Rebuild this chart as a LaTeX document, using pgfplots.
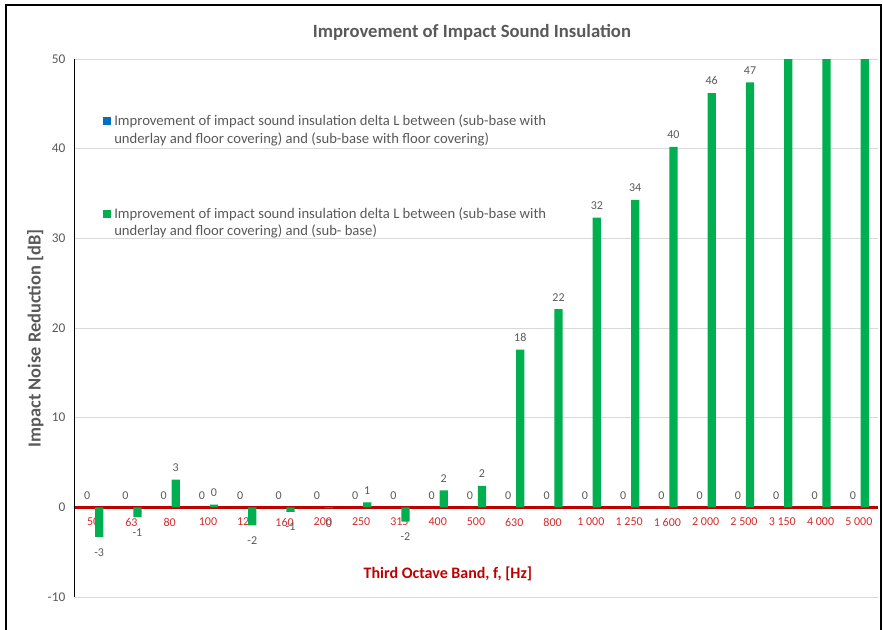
\documentclass[border=0pt]{standalone}
\usepackage{pgfplots}
\pgfplotsset{compat=1.18}
\usepackage{pgfplotstable}
\usepackage{fontspec}
\setmainfont{Carlito}

\definecolor{barGreen}{HTML}{00B050}
\definecolor{barBlue}{HTML}{0070C0}
\definecolor{axRed}{HTML}{C00000}
\definecolor{lblRed}{HTML}{D42A2A}
\definecolor{txtGray}{HTML}{595959}
\definecolor{gridGray}{HTML}{D9D9D9}

% delta L (underlay+covering) vs (covering): all zero
\pgfplotstableread{
x y lbl
0 0 0
1 0 0
2 0 0
3 0 0
4 0 0
5 0 0
6 0 0
7 0 0
8 0 0
9 0 0
10 0 0
11 0 0
12 0 0
13 0 0
14 0 0
15 0 0
16 0 0
17 0 0
18 0 0
19 0 0
20 0 0
}\seriesA

% delta L (underlay+covering) vs (sub-base), positive values
\pgfplotstableread{
x y lbl
2 3.1 3
3 0.3 0
7 0.55 1
9 1.9 2
10 2.4 2
11 17.6 18
12 22.1 22
13 32.3 32
14 34.3 34
15 40.2 40
16 46.2 46
17 47.4 47
}\seriesBpos

% same series, negative values (labels below the bars)
\pgfplotstableread{
x y lbl
0 -3.3 -3
1 -1.1 -1
4 -2.0 -2
5 -0.5 -1
6 -0.1 0
8 -1.6 -2
}\seriesBneg

% bars running past the top of the axis (no labels shown)
\pgfplotstableread{
x y
18 52
19 54
20 55
}\seriesBtop

\begin{document}
\begin{tikzpicture}
\useasboundingbox (0,0) rectangle (662.25pt,-472.5pt);
\draw[black, line width=1pt] (4.5pt,-3.75pt) rectangle (660.75pt,-490pt);
\begin{axis}[
  at={(55.5pt,-447.75pt)}, anchor=south west,
  scale only axis, width=603pt, height=403.5pt,
  xmin=-0.5, xmax=20.5, ymin=-10, ymax=50,
  axis x line=middle, axis y line=left,
  x axis line style={draw=axRed, line width=2pt, -},
  y axis line style={draw=black, line width=0.6pt, -},
  xtick={0,...,20},
  xticklabels={50,63,80,100,125,160,200,250,315,400,500,630,800,1 000,1 250,1 600,2 000,2 500,3 150,4 000,5 000},
  ytick={-10,0,10,20,30,40,50},
  major tick length=0pt,
  ymajorgrids, grid style={gridGray, line width=0.6pt},
  /pgf/number format/assume math mode=true,
  xticklabel style={font=\fontsize{9}{11}\selectfont, text=lblRed, yshift=-4.5pt},
  yticklabel style={font=\fontsize{10}{12}\selectfont, text=txtGray, xshift=-3pt},
  title={Improvement of Impact Sound Insulation},
  title style={font=\fontsize{14}{17}\selectfont\bfseries, text=txtGray,
    at={(axis description cs:0.495,1.035)}, anchor=center},
  xlabel={Third Octave Band, f, [Hz]},
  xlabel style={font=\fontsize{12}{14}\selectfont\bfseries, text=axRed,
    at={(axis description cs:0.465,0.043)}, anchor=center},
  ylabel={Impact Noise Reduction [dB]},
  ylabel style={font=\fontsize{13.8}{16}\selectfont\bfseries, text=txtGray,
    at={(axis description cs:-0.048,0.481)}, anchor=center},
  ybar, bar width=6.2pt,
  nodes near coords, point meta=explicit symbolic,
  every node near coord/.append style={font=\fontsize{9}{11}\selectfont, text=txtGray},
]
\addplot[draw=none, fill=barBlue, bar shift=-4.5pt,
  every node near coord/.append style={anchor=south, yshift=2.5pt}]
  table[x=x, y=y, meta=lbl] {\seriesA};
\addplot[draw=none, fill=barGreen, bar shift=4.5pt,
  every node near coord/.append style={anchor=south, yshift=2.5pt}]
  table[x=x, y=y, meta=lbl] {\seriesBpos};
\addplot[draw=none, fill=barGreen, bar shift=4.5pt,
  every node near coord/.append style={anchor=north, yshift=-5pt}]
  table[x=x, y=y, meta=lbl] {\seriesBneg};
\addplot[draw=none, fill=barGreen, bar shift=4.5pt, nodes near coords={}]
  table[x=x, y=y] {\seriesBtop};
\end{axis}
% legend
\fill[barBlue] (77.25pt,-87.75pt) rectangle (83.25pt,-93.75pt);
\node[anchor=base west, inner sep=0pt, text=txtGray, font=\fontsize{11}{13}\selectfont] at (85.5pt,-94.5pt) {Improvement of impact sound insulation delta L between (sub-base with};
\node[anchor=base west, inner sep=0pt, text=txtGray, font=\fontsize{11}{13}\selectfont] at (85.5pt,-108pt) {underlay and floor covering) and (sub-base with floor covering)};
\fill[barGreen] (77.25pt,-157.5pt) rectangle (83.25pt,-163.5pt);
\node[anchor=base west, inner sep=0pt, text=txtGray, font=\fontsize{11}{13}\selectfont] at (85.5pt,-164.25pt) {Improvement of impact sound insulation delta L between (sub-base with};
\node[anchor=base west, inner sep=0pt, text=txtGray, font=\fontsize{11}{13}\selectfont] at (85.5pt,-177pt) {underlay and floor covering) and (sub- base)};
\end{tikzpicture}
\end{document}
